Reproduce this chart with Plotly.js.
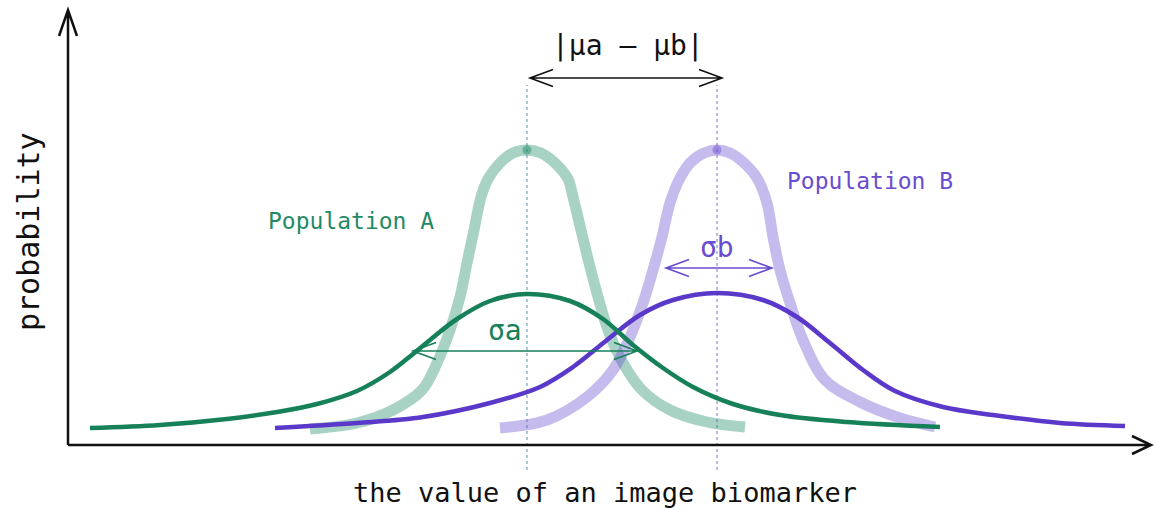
<!DOCTYPE html>
<html>
<head>
<meta charset="utf-8">
<script src="https://cdn.plot.ly/plotly-3.0.1.min.js"></script>
<style>
  html, body { margin: 0; padding: 0; background: #fff; }
  #plot { width: 1156px; height: 510px; }
</style>
</head>
<body>
<div id="plot"></div>
<script>
// population A, narrow spread (light, thick)
let narrowAx = [24.2, 28.9, 32.5, 35.4, 36.9, 38.2, 39.2, 39.9, 40.6, 41.3, 42.0, 43.2, 44.5, 45.9, 47.3, 48.7, 50.0, 50.5, 51.3, 52.1, 53.0, 54.0, 55.5, 57.4, 60.2, 63.9, 67.7];
let narrowAy = [1.6, 2.2, 3.5, 5.5, 8.2, 11.5, 14.8, 18.2, 21.5, 24.8, 26.6, 28.2, 29.2, 29.5, 29.2, 28.2, 26.6, 24.8, 21.5, 18.2, 14.8, 11.5, 8.2, 5.5, 3.5, 2.3, 1.8];

// population B, narrow spread
let narrowBx = [43.2, 47.9, 51.9, 54.5, 56.2, 57.5, 58.5, 59.4, 60.2, 61.2, 62.3, 63.6, 64.9, 66.2, 67.5, 68.9, 69.9, 70.5, 71.2, 72.2, 73.5, 75.7, 79.2, 83.2, 86.7];
let narrowBy = [1.7, 2.5, 4.8, 7.5, 10.8, 14.2, 17.5, 20.8, 24.2, 26.7, 28.3, 29.2, 29.5, 29.2, 28.3, 26.7, 24.2, 20.8, 17.5, 14.2, 10.5, 6.5, 4.3, 2.7, 1.8];

// population A, wide spread (dark, thin)
let wideAx = [2.2, 9.2, 15.9, 20.9, 24.9, 28.9, 32.2, 34.5, 36.2, 38.9, 42.2, 45.9, 50.2, 53.5, 56.5, 59.5, 62.5, 66.5, 71.2, 77.9, 87.2];
let wideAy = [1.7, 2.0, 2.6, 3.3, 4.1, 5.4, 7.3, 9.1, 10.5, 12.6, 14.4, 15.1, 14.4, 12.6, 10.0, 7.7, 5.8, 4.1, 3.0, 2.3, 1.8];

// population B, wide spread
let wideBx = [20.7, 28.9, 35.5, 42.2, 47.2, 50.5, 53.9, 57.2, 60.5, 64.9, 69.5, 72.9, 76.2, 79.5, 82.7, 87.5, 92.5, 99.2, 105.7];
let wideBy = [1.7, 2.2, 2.8, 4.2, 5.8, 7.8, 10.5, 13.0, 14.5, 15.2, 14.5, 12.8, 10.2, 7.5, 5.4, 3.8, 3.0, 2.2, 1.9];

let meanA = 45.9;
let meanB = 64.9;
let peakY = 29.5;

let green = '#168159';
let purple = '#5a38c9';
let lightGreen = 'rgba(27,138,99,0.38)';
let lightPurple = 'rgba(106,76,208,0.38)';
let mono = 'DejaVu Sans Mono, monospace';

function curve(x, y, color, width) {
    return {
        x: x,
        y: y,
        mode: 'lines',
        type: 'scatter',
        line: { color: color, width: width, shape: 'spline', smoothing: 1 },
        hoverinfo: 'skip'
    };
}

let data = [
    curve(narrowAx, narrowAy, lightGreen, 11),
    curve(narrowBx, narrowBy, lightPurple, 11),
    curve(wideBx, wideBy, purple, 4.5),
    curve(wideAx, wideAy, green, 4.5),
    {
        x: [meanA, meanB],
        y: [peakY, peakY],
        mode: 'markers',
        type: 'scatter',
        marker: { size: 9, color: ['rgba(27,138,99,0.45)', 'rgba(106,76,208,0.45)'] },
        hoverinfo: 'skip'
    }
];

// double headed open arrow, drawn as one path
function doubleArrow(x0, x1, y, color, w) {
    let dx = 2.3, dy = 0.85;
    return {
        type: 'path',
        xref: 'x', yref: 'y',
        path: 'M' + x0 + ',' + y + ' L' + x1 + ',' + y +
              ' M' + (x0 + dx) + ',' + (y + dy) + ' L' + x0 + ',' + y + ' L' + (x0 + dx) + ',' + (y - dy) +
              ' M' + (x1 - dx) + ',' + (y + dy) + ' L' + x1 + ',' + y + ' L' + (x1 - dx) + ',' + (y - dy),
        line: { color: color, width: w }
    };
}

let shapes = [
    // dotted mean lines
    { type: 'line', xref: 'x', yref: 'y', x0: meanA, x1: meanA, y0: -2.5, y1: 36.0, layer: 'below',
      line: { color: '#8db6cc', width: 1.5, dash: 'dot' } },
    { type: 'line', xref: 'x', yref: 'y', x0: meanB, x1: meanB, y0: -2.5, y1: 36.0, layer: 'below',
      line: { color: '#aaa2de', width: 1.5, dash: 'dot' } },
    // axes with arrow heads
    { type: 'path', xref: 'x', yref: 'y',
      path: 'M0,0 L108.3,0 M106.4,0.9 L108.3,0 L106.4,-0.9', line: { color: '#111', width: 2.5 } },
    { type: 'path', xref: 'x', yref: 'y',
      path: 'M0,0 L0,43.5 M-0.9,40.9 L0,43.5 L0.9,40.9', line: { color: '#111', width: 2.5 } },
    doubleArrow(46.2, 65.4, 36.7, '#111', 1.6),
    doubleArrow(34.5, 56.9, 9.4, green, 1.6),
    doubleArrow(59.8, 70.4, 17.7, '#6a4cd0', 1.6)
];

function label(text, x, y, size, color, angle) {
    return {
        text: text, x: x, y: y, xref: 'x', yref: 'y',
        showarrow: false, xanchor: 'center', yanchor: 'middle',
        textangle: angle || 0,
        font: { family: mono, size: size, color: color }
    };
}

let layout = {
    width: 1156,
    height: 510,
    margin: { l: 0, r: 0, t: 0, b: 0 },
    paper_bgcolor: '#fff',
    plot_bgcolor: '#fff',
    showlegend: false,
    xaxis: { range: [-6.8, 108.8], visible: false, fixedrange: true },
    yaxis: { range: [-6.5, 44.5], visible: false, fixedrange: true },
    shapes: shapes,
    annotations: [
        label('|μa – μb|', 56.0, 40.0, 28, '#111'),
        label('Population A', 28.3, 22.4, 23, '#1f8a64'),
        label('Population B', 80.2, 26.4, 23, '#6a4cd0'),
        label('σa', 43.7, 11.5, 28, green),
        label('σb', 64.9, 19.8, 28, '#6a4cd0'),
        label('probability', -4.0, 21.3, 30, '#111', -90),
        label('the value of an image biomarker', 53.7, -4.7, 27, '#111')
    ]
};

Plotly.newPlot('plot', data, layout, { staticPlot: true, displayModeBar: false });
</script>
</body>
</html>
